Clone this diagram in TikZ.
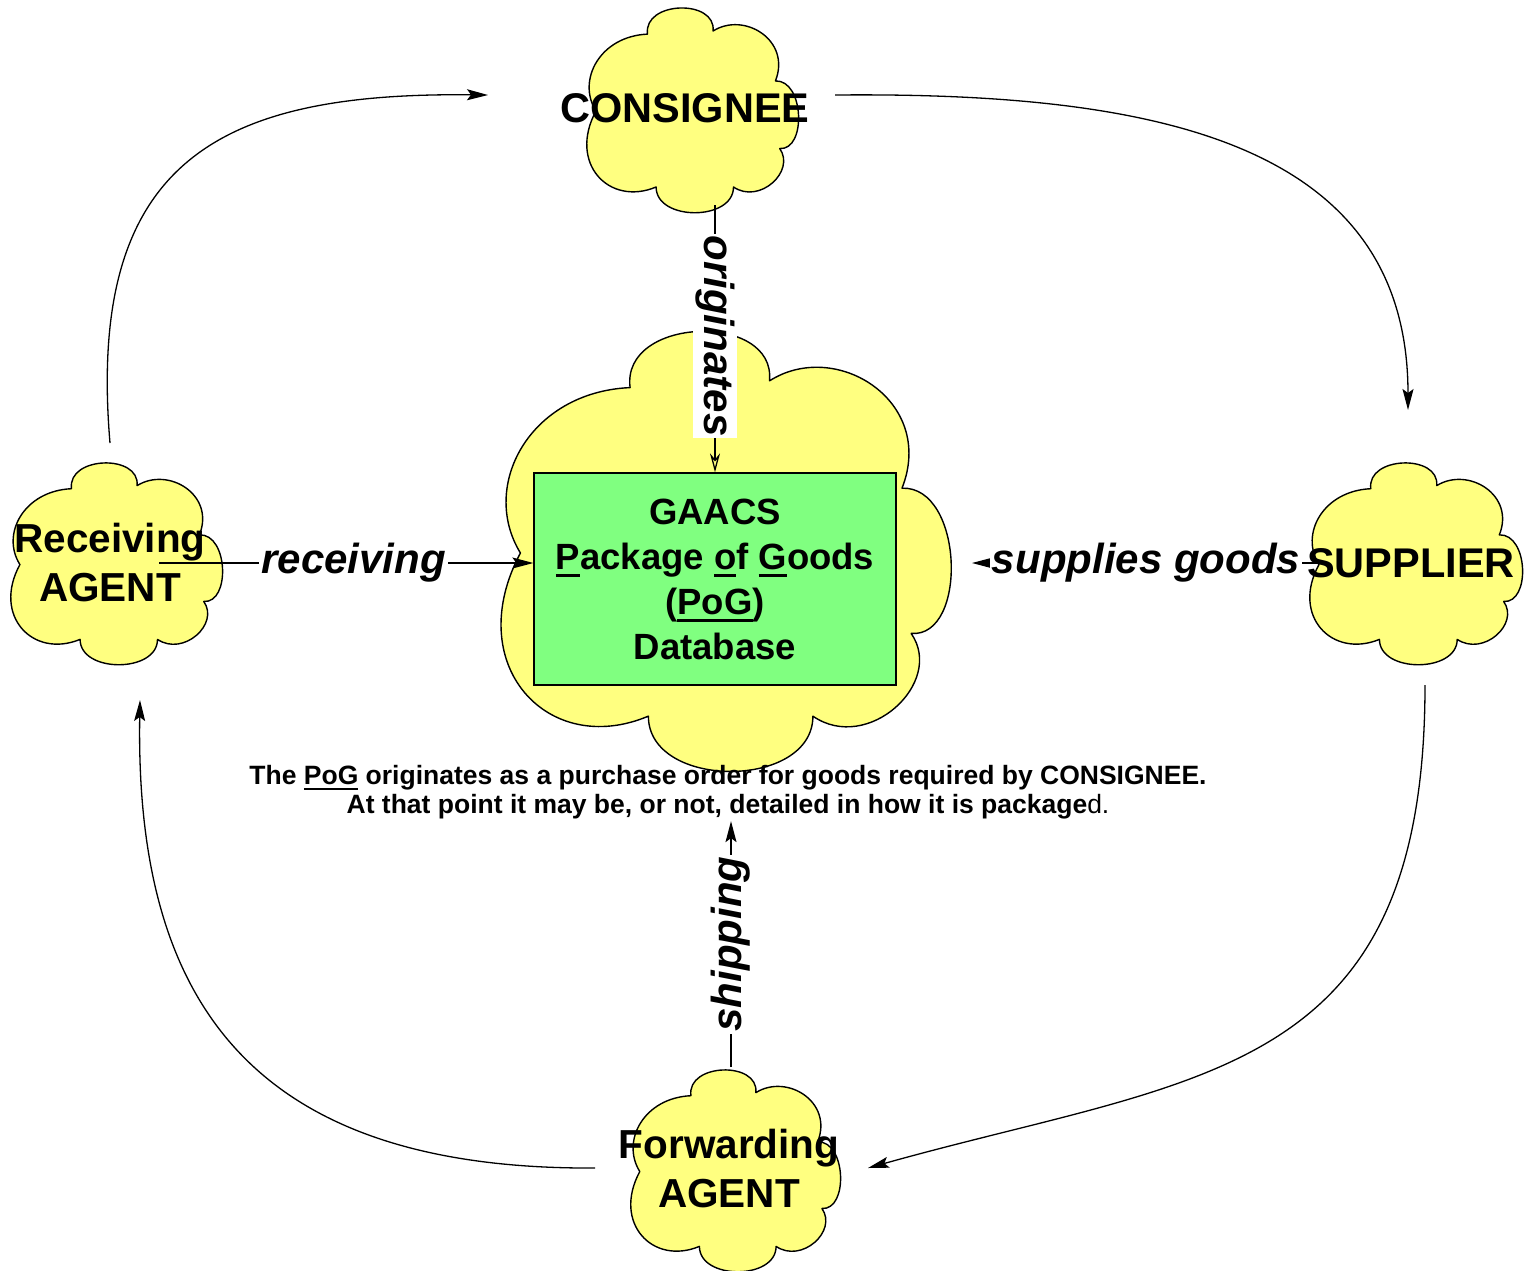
\documentclass[tikz,border=0pt]{standalone}
\usepackage{fontspec}
\setmainfont{Liberation Sans}
\usetikzlibrary{arrows.meta}
\definecolor{cloudy}{RGB}{255,255,128}
\definecolor{boxg}{RGB}{128,255,128}
\newcommand\ulx[1]{\setbox0=\hbox{#1}\rlap{\rule[-0.22em]{\wd0}{0.085em}}\box0{}}
\newcommand\gcloud[4]{%
\begin{scope}[shift={(#1,#2)},xscale=#3,yscale=#4]
\filldraw[cloudline] (0.30,0.14)
 .. controls (0.28,-0.02) and (0.62,-0.03) .. (0.605,0.125)
 .. controls (0.75,0.03) and (0.97,0.17) .. (0.895,0.365)
 .. controls (1.03,0.36) and (1.04,0.70) .. (0.915,0.69)
 .. controls (0.99,0.80) and (0.82,0.96) .. (0.70,0.875)
 .. controls (0.70,1.04) and (0.34,1.04) .. (0.34,0.875)
 .. controls (0.12,0.97) and (-0.07,0.76) .. (0.06,0.51)
 .. controls (-0.03,0.36) and (0.08,0.15) .. (0.30,0.14)
 -- cycle;
\end{scope}}
\begin{document}
\begin{tikzpicture}[x=1pt,y=-1pt,
  cloudline/.style={draw=black, fill=cloudy, line width=1.4pt, line join=round},
  bigtxt/.style={font=\fontsize{41.5}{50}\selectfont\bfseries, align=center, inner sep=0pt},
  agenttxt/.style={font=\fontsize{40.5}{49}\selectfont\bfseries, align=center, inner sep=0pt},
  lbl/.style={font=\fontsize{42}{50}\selectfont\bfseries\itshape, fill=white, inner sep=2pt},
  conn/.style={line width=1.3pt},
  tip/.style={-{Stealth[length=21pt,width=11pt,inset=4pt]}},
  opentip/.style={-{Stealth[open,length=19pt,width=10pt,inset=6pt]}},
]
\useasboundingbox (0,0) rectangle (1531,1270);
% clouds
\gcloud{493}{325}{457}{447}
\gcloud{583}{5}{215}{208}
\gcloud{7}{460}{215}{205}
\gcloud{1306}{460}{216}{205}
\gcloud{627}{1067}{213}{205}
\coordinate (consc) at (690,109);
\coordinate (recvc) at (115,563);
\coordinate (supc) at (1414,563);
\coordinate (fwdc) at (733,1170);
% database box
\node[draw, fill=boxg, line width=1.3pt, minimum width=362pt, minimum height=212pt, inner sep=0pt,
      font=\fontsize{36.5}{45}\selectfont\bfseries, align=center] (box) at (715,579)
  {GAACS\\\ulx{P}ackage \ulx{o}f \ulx{G}oods\\(\ulx{PoG})\\Database};
% caption
\node[font=\fontsize{26.5}{29}\selectfont\bfseries, align=center, inner sep=2pt] (cap) at (728,792)
  {The \ulx{PoG} originates as a purchase order for goods required by CONSIGNEE.\\At that point it may be, or not, detailed in how it is package{\mdseries d.}};
% straight connectors
\coordinate (consbot) at (715,205);
\draw[conn, opentip] (consbot) -- (consbot -| box.north) -- (box.north) node[lbl, rotate=-90, pos=0.49] {originates};
\coordinate (rs) at (159,563);
\draw[conn, tip] (rs) -- (rs -| box.west) node[lbl, pos=0.52] {receiving};
\coordinate (ss) at (1320,563);
\coordinate (se) at (972,563);
\draw[conn, tip] (ss) -- (se) node[lbl, pos=0.5] {supplies goods};
\coordinate (fwdtop) at (731,1067);
\draw[conn, tip] (fwdtop) -- (fwdtop |- cap.south) node[lbl, rotate=90, pos=0.5] {shipping};
% curved connectors
\coordinate (a1) at (110,443); \coordinate (a2) at (488,95);
\draw[conn, tip] (a1) .. controls (86,160) and (220,92) .. (a2);
\coordinate (b1) at (835,95); \coordinate (b2) at (1408,410);
\draw[conn, tip] (b1) .. controls (1150,92) and (1408,140) .. (b2);
\coordinate (c1) at (1425,685); \coordinate (c2) at (868,1168);
\draw[conn, tip] (c1) .. controls (1425,1080) and (1200,1075) .. (c2);
\coordinate (d1) at (595,1168); \coordinate (d2) at (140,700);
\draw[conn, tip] (d1) .. controls (250,1170) and (135,1000) .. (d2);
% cloud texts
\node[bigtxt] (constxt) at (685,108) {CONSIGNEE};
\node[bigtxt] (suptxt) at (1411,563) {SUPPLIER};
\node[agenttxt] (recvtxt) at (110,563) {Receiving\\AGENT};
\node[agenttxt] (fwdtxt) at (729,1169) {Forwarding\\AGENT};
\end{tikzpicture}
\end{document}
